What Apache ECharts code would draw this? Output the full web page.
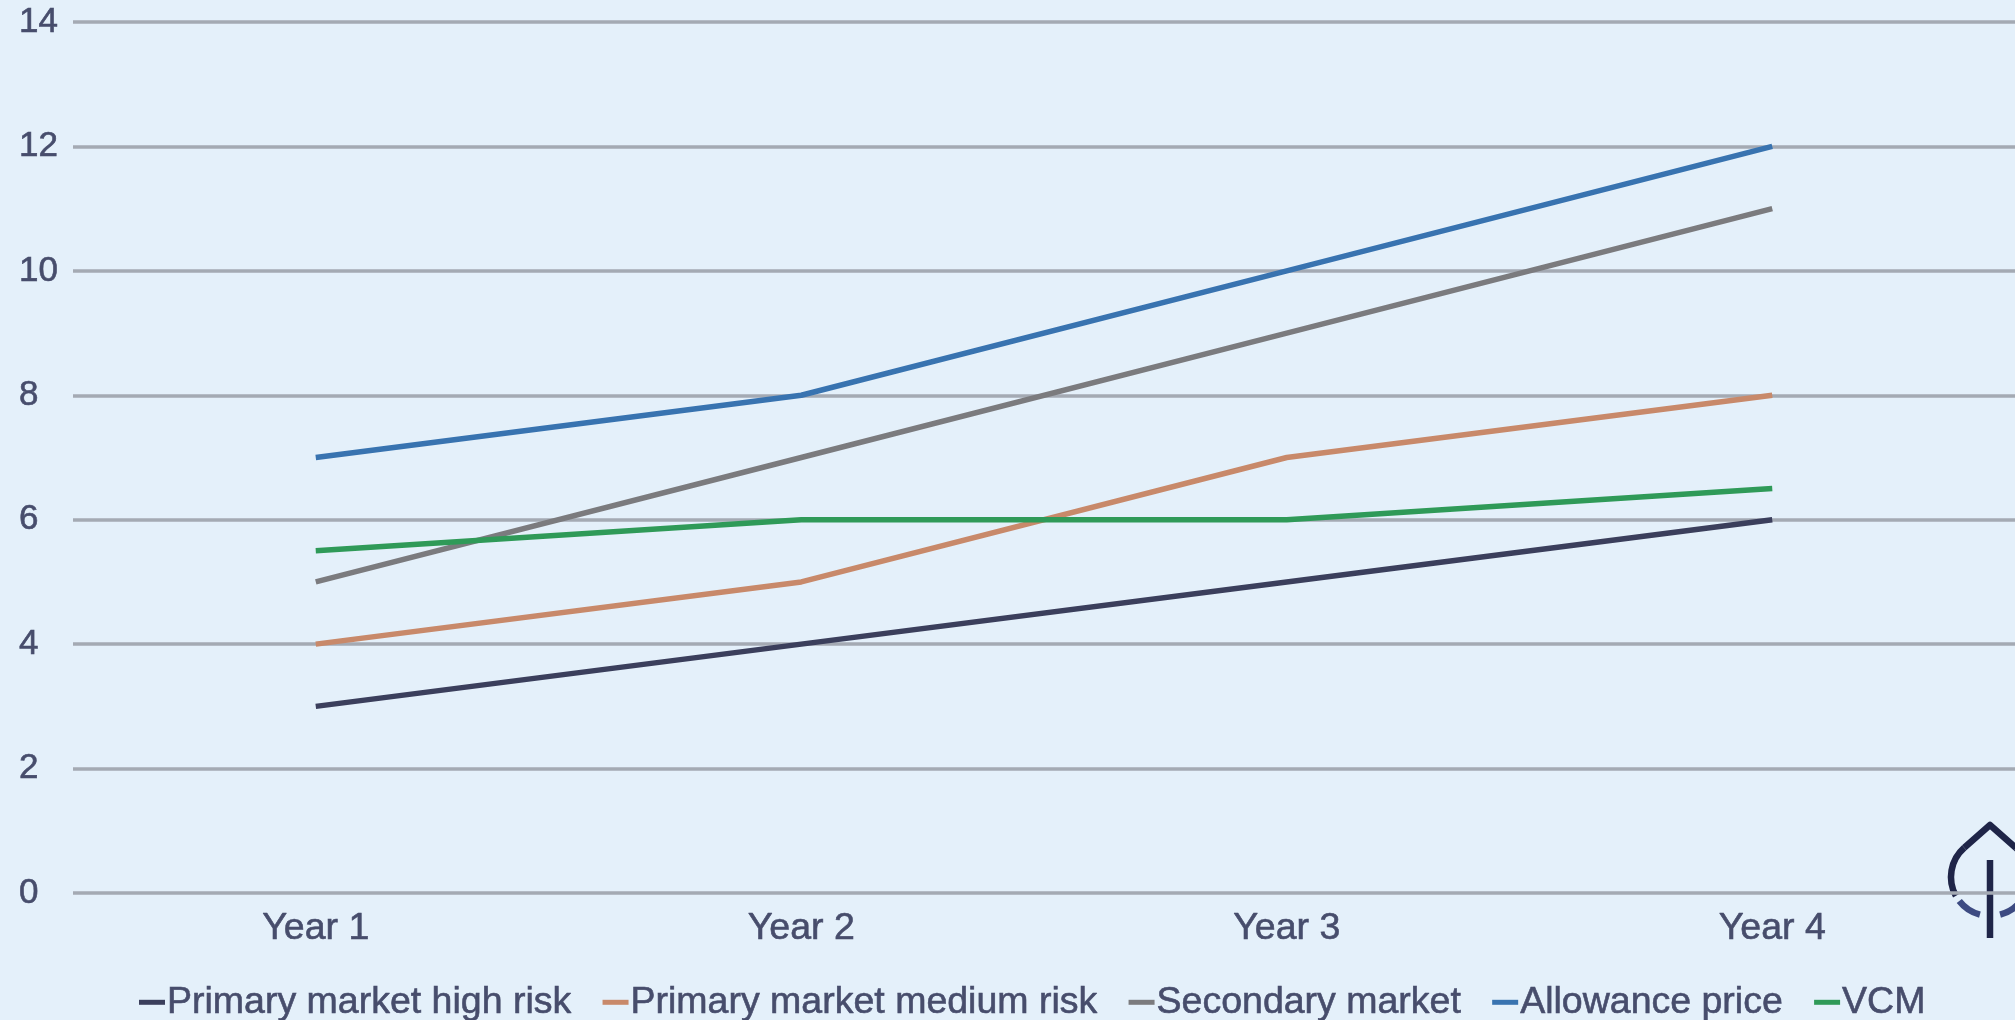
<!DOCTYPE html>
<html>
<head>
<meta charset="utf-8">
<script src="https://cdn.jsdelivr.net/npm/echarts@6/dist/echarts.min.js"></script>
<style>
  html, body { margin: 0; padding: 0; background: #e4f0fa; }
  #chart { width: 2015px; height: 1020px; }
</style>
</head>
<body>
<div id="chart"></div>
<script>
// Price paths by market segment
const years = ['Year 1', 'Year 2', 'Year 3', 'Year 4'];
const primaryHighRisk = [3, 4, 5, 6];
const primaryMediumRisk = [4, 5, 7, 8];
const secondaryMarket = [5, 7, 9, 11];
const allowancePrice = [7, 8, 10, 12];
const vcm = [5.5, 6, 6, 6.5];
const seriesNames = ['Primary market high risk', 'Primary market medium risk', 'Secondary market', 'Allowance price', 'VCM'];
const seriesColors = ['#3b3f5c', '#c8896a', '#7b7b7e', '#3873b0', '#2f9a58'];
const seriesValues = [primaryHighRisk, primaryMediumRisk, secondaryMarket, allowancePrice, vcm];

const textColor = '#474d6c';
const font = '"Liberation Sans", Arial, sans-serif';

const chart = echarts.init(document.getElementById('chart'), null, { renderer: 'canvas' });

// leaf emblem in the lower right corner
const cx = 1990, cy = 877, r = 39;
const deg = Math.PI / 180;
const navy = '#1f2548';
const lightNavy = '#3d4b82';
const strokeW = 6.5;

chart.setOption({
  backgroundColor: '#e4f0fa',
  animation: false,
  textStyle: { fontFamily: font },
  grid: { left: 73, right: 0, top: 22, bottom: 127, containLabel: false },
  xAxis: {
    type: 'category',
    data: years,
    boundaryGap: true,
    axisLine: { show: false },
    axisTick: { show: false },
    axisLabel: {
      color: textColor, fontSize: 37.5, margin: 17, fontFamily: font,
      textBorderColor: textColor, textBorderWidth: 0.6
    }
  },
  yAxis: {
    type: 'value',
    min: 0, max: 14, interval: 2,
    axisLine: { show: false },
    axisTick: { show: false },
    axisLabel: {
      color: textColor, fontSize: 35, margin: 54, align: 'left', fontFamily: font,
      textBorderColor: textColor, textBorderWidth: 0.6
    },
    splitLine: { lineStyle: { color: '#a4aab3', width: 3.5 } }
  },
  legend: {
    left: 134,
    top: 978,
    itemGap: 31,
    itemWidth: 26,
    itemHeight: 5,
    icon: 'rect',
    textStyle: {
      color: textColor, fontSize: 37.5, fontFamily: font, padding: [0, 0, 0, -3],
      textBorderColor: textColor, textBorderWidth: 0.6
    },
    data: seriesNames
  },
  series: seriesNames.map((name, i) => ({
    name,
    type: 'line',
    data: seriesValues[i],
    symbol: 'none',
    color: seriesColors[i],
    lineStyle: { width: 5.5, color: seriesColors[i] },
    z: 3
  })),
  graphic: [
    {
      type: 'group',
      z: 100,
      children: [
        {
          type: 'arc',
          shape: { cx, cy, r, startAngle: 151 * deg, endAngle: 228.6 * deg, clockwise: true },
          style: { stroke: navy, lineWidth: strokeW, fill: null }
        },
        {
          type: 'polyline',
          shape: {
            points: [
              [cx + r * Math.cos(228.6 * deg), cy + r * Math.sin(228.6 * deg)],
              [cx, cy - 52],
              [cx + r * Math.cos(311.4 * deg), cy + r * Math.sin(311.4 * deg)]
            ]
          },
          style: { stroke: navy, lineWidth: strokeW, fill: null, lineJoin: 'round' }
        },
        {
          type: 'arc',
          shape: { cx, cy, r, startAngle: 311.4 * deg, endAngle: 380 * deg, clockwise: true },
          style: { stroke: navy, lineWidth: strokeW, fill: null }
        },
        {
          type: 'arc',
          shape: { cx, cy, r, startAngle: 105 * deg, endAngle: 142 * deg, clockwise: true },
          style: { stroke: lightNavy, lineWidth: strokeW, fill: null }
        },
        {
          type: 'arc',
          shape: { cx, cy, r, startAngle: 30 * deg, endAngle: 75 * deg, clockwise: true },
          style: { stroke: lightNavy, lineWidth: strokeW, fill: null }
        },
        {
          type: 'line',
          shape: { x1: cx, y1: 860, x2: cx, y2: 938 },
          style: { stroke: navy, lineWidth: 6.5 }
        }
      ]
    }
  ]
});
</script>
</body>
</html>
